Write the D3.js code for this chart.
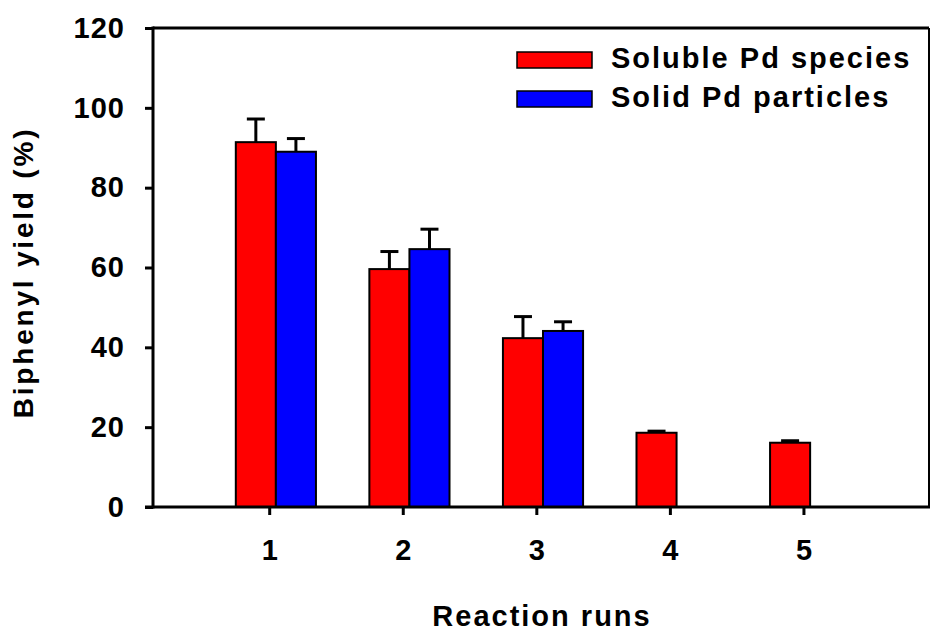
<!DOCTYPE html>
<html>
<head>
<meta charset="utf-8">
<script src="https://cdn.jsdelivr.net/npm/d3@7/dist/d3.min.js"></script>
<style>
  html, body { margin: 0; padding: 0; background: #fff; }
  svg { display: block; }
  text { font-family: "Liberation Sans", Arial, sans-serif; font-weight: bold; fill: #000; }
</style>
</head>
<body>
<svg id="chart" width="930" height="632"></svg>
<script>
const runs = [1, 2, 3, 4, 5];
const solubleYield = [91.4, 59.6, 42.3, 18.6, 16.1];
const solubleErr   = [5.8, 4.4, 5.4, 0.4, 0.5];
const solidRuns    = [1, 2, 3];
const solidYield   = [89.0, 64.6, 44.1];
const solidErr     = [3.3, 5.0, 2.3];
const yTicks = [0, 20, 40, 60, 80, 100, 120];
const seriesNames = ["Soluble Pd species", "Solid Pd particles"];
const seriesColors = ["#ff0000", "#0000ff"];

const svg = d3.select("#chart");
const pL = 153, pR = 929, pT = 28, pB = 507;

const x = d3.scaleLinear().domain([0.13, 5.94]).range([pL, pR]);
const y = d3.scaleLinear().domain([0, 120]).range([pB, pT]);
const bw = x(1.3) - x(1);

const soluble = runs.map((r, i) => ({ r, v: solubleYield[i], e: solubleErr[i], off: -0.25 }));
const solid = solidRuns.map((r, i) => ({ r, v: solidYield[i], e: solidErr[i], off: 0.05 }));
const series = [soluble, solid];

series.forEach((s, si) => {
  const g = svg.append("g");
  g.selectAll("line.err").data(s).join("line").attr("class", "err")
    .attr("x1", d => x(d.r + d.off) + bw / 2).attr("x2", d => x(d.r + d.off) + bw / 2)
    .attr("y1", d => y(d.v)).attr("y2", d => y(d.v + d.e))
    .attr("stroke", "#000").attr("stroke-width", 3);
  g.selectAll("line.cap").data(s).join("line").attr("class", "cap")
    .attr("x1", d => x(d.r + d.off) + bw / 2 - 9).attr("x2", d => x(d.r + d.off) + bw / 2 + 9)
    .attr("y1", d => y(d.v + d.e)).attr("y2", d => y(d.v + d.e))
    .attr("stroke", "#000").attr("stroke-width", 3);
  g.selectAll("rect").data(s).join("rect")
    .attr("x", d => x(d.r + d.off))
    .attr("y", d => y(d.v))
    .attr("width", bw)
    .attr("height", d => y(0) - y(d.v))
    .attr("fill", seriesColors[si])
    .attr("stroke", "#000").attr("stroke-width", 2);
});

svg.append("line").attr("x1", pL).attr("x2", pR).attr("y1", pT).attr("y2", pT)
  .attr("stroke", "#000").attr("stroke-width", 3);
svg.append("line").attr("x1", pR).attr("x2", pR).attr("y1", pT).attr("y2", pB)
  .attr("stroke", "#000").attr("stroke-width", 2);

const yAxis = svg.append("g").attr("transform", `translate(${pL},0)`)
  .call(d3.axisLeft(y).tickValues(yTicks).tickSize(8).tickSizeOuter(0).tickPadding(20));
const xAxis = svg.append("g").attr("transform", `translate(0,${pB})`)
  .call(d3.axisBottom(x).tickValues(runs).tickFormat(d3.format("d")).tickSize(8).tickSizeOuter(0).tickPadding(24));
[yAxis, xAxis].forEach(a => {
  a.select(".domain").attr("stroke", "#000").attr("stroke-width", 3);
  a.selectAll(".tick line").attr("stroke", "#000").attr("stroke-width", 3);
  a.selectAll(".tick text").style("font-size", "29px").style("font-family", "'Liberation Sans', Arial, sans-serif").style("font-weight", "bold").attr("fill", "#000");
});
yAxis.selectAll(".tick text").style("letter-spacing", "1px");
yAxis.select(".domain").attr("d", `M0,${pB + 1.5}V${pT - 1.5}`);
xAxis.select(".domain").attr("d", `M${pL - 8},0H${pR + 1}`);

svg.append("text")
  .attr("transform", `translate(33,${(128 + 417) / 2}) rotate(-90)`)
  .attr("text-anchor", "middle")
  .style("font-size", "28px")
  .style("letter-spacing", "2.8px")
  .text("Biphenyl yield (%)");
svg.append("text")
  .attr("x", 542).attr("y", 626)
  .attr("text-anchor", "middle")
  .style("font-size", "29px")
  .style("letter-spacing", "2px")
  .text("Reaction runs");

const leg = svg.append("g");
seriesNames.forEach((n, i) => {
  const yy = 52 + i * 39;
  leg.append("rect").attr("x", 517).attr("y", yy).attr("width", 75).attr("height", 16)
    .attr("fill", seriesColors[i]).attr("stroke", "#000").attr("stroke-width", 1.5);
  leg.append("text").attr("x", 611).attr("y", yy + 16)
    .style("font-size", "29px").style("letter-spacing", "2px").text(n);
});
</script>
</body>
</html>
